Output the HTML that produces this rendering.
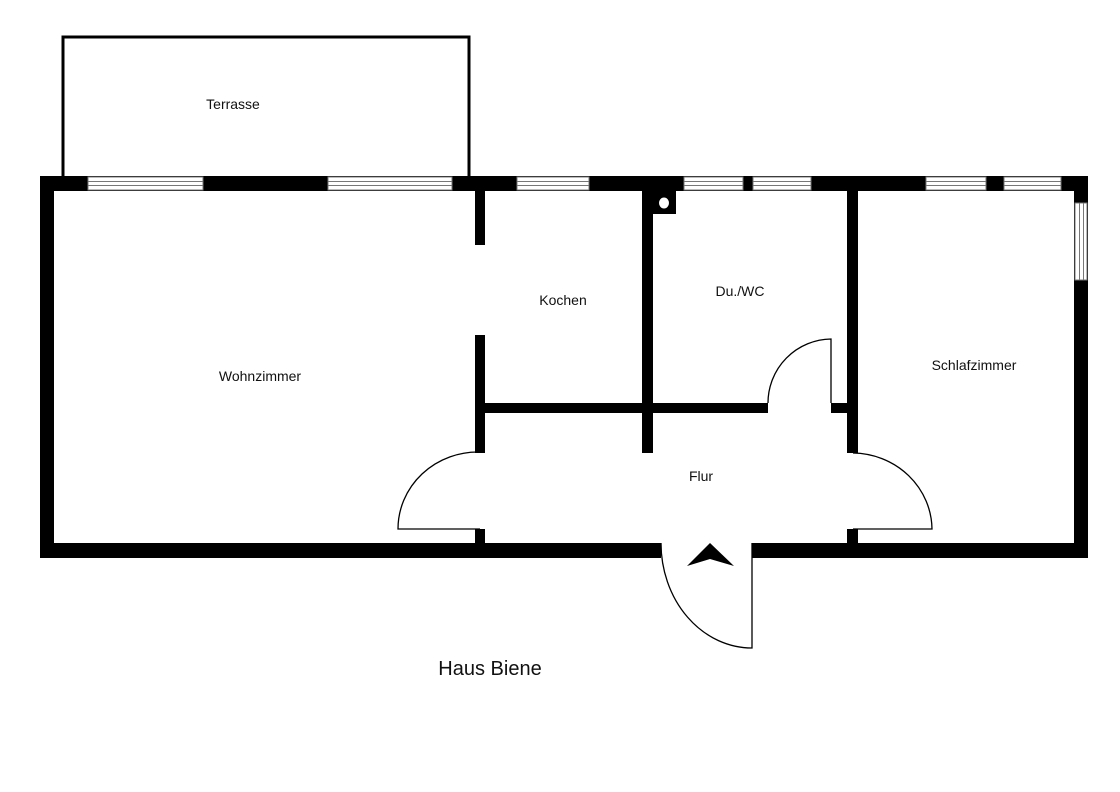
<!DOCTYPE html>
<html><head><meta charset="utf-8"><style>
html,body{margin:0;padding:0;background:#fff;width:1120px;height:792px;overflow:hidden}
svg text{font-family:"Liberation Sans",sans-serif;fill:#111}
</style></head><body>
<svg width="1120" height="792" viewBox="0 0 1120 792" xmlns="http://www.w3.org/2000/svg">
<rect x="63" y="37" width="406" height="142" fill="none" stroke="#000" stroke-width="3"/>
<!-- outer walls -->
<rect x="40" y="176" width="1048" height="15" fill="#000"/>
<rect x="40" y="543" width="621" height="15" fill="#000"/>
<rect x="752" y="543" width="336" height="15" fill="#000"/>
<rect x="40" y="176" width="14" height="382" fill="#000"/>
<rect x="1074" y="176" width="14" height="382" fill="#000"/>
<!-- windows top -->
<g fill="#fff" stroke="#777" stroke-width="1">
<rect x="88" y="177" width="115" height="13"/>
<rect x="328" y="177" width="124" height="13"/>
<rect x="517" y="177" width="72" height="13"/>
<rect x="684" y="177" width="59" height="13"/>
<rect x="753" y="177" width="58" height="13"/>
<rect x="926" y="177" width="60" height="13"/>
<rect x="1004" y="177" width="57" height="13"/>
<rect x="1075" y="203" width="12" height="77"/>
</g>
<g stroke="#777" stroke-width="1">
<path d="M88 181.5H203M88 185.5H203M328 181.5H452M328 185.5H452M517 181.5H589M517 185.5H589M684 181.5H743M684 185.5H743M753 181.5H811M753 185.5H811M926 181.5H986M926 185.5H986M1004 181.5H1061M1004 185.5H1061"/>
<path d="M1079.5 203V280M1083.5 203V280"/>
</g>
<!-- interior walls -->
<g fill="#000">
<rect x="475" y="191" width="10" height="54"/>
<rect x="475" y="335" width="10" height="118"/>
<rect x="475" y="529" width="10" height="14"/>
<rect x="485" y="403" width="283" height="10"/>
<rect x="831" y="403" width="17" height="10"/>
<rect x="642" y="191" width="11" height="262"/>
<rect x="642" y="191" width="34" height="23"/>
<rect x="847" y="191" width="11" height="262"/>
<rect x="847" y="529" width="11" height="14"/>
</g>
<ellipse cx="664" cy="203" rx="5" ry="5.5" fill="#fff"/>
<!-- doors -->
<g fill="none" stroke="#000" stroke-width="1.3">
<path d="M831 403V339A64 64 0 0 0 768 403"/>
<path d="M480 452A80 77 0 0 0 398 529H480"/>
<path d="M853 453A80 77 0 0 1 932 529H853"/>
<path d="M752 543V648A91 105 0 0 1 661 543"/>
</g>
<path d="M710 543L734 566L710 559L687 566Z" fill="#000"/>
<g font-size="14">
<text x="233" y="109" text-anchor="middle">Terrasse</text>
<text x="260" y="381" text-anchor="middle">Wohnzimmer</text>
<text x="563" y="305" text-anchor="middle">Kochen</text>
<text x="740" y="296" text-anchor="middle">Du./WC</text>
<text x="974" y="370" text-anchor="middle">Schlafzimmer</text>
<text x="701" y="481" text-anchor="middle">Flur</text>
</g>
<text x="490" y="675" text-anchor="middle" font-size="20">Haus Biene</text>
</svg>
</body></html>
